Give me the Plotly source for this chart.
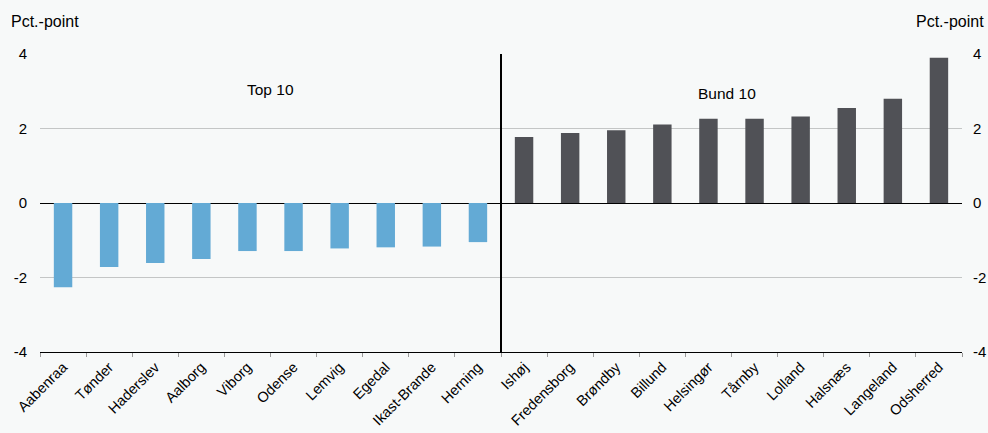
import plotly.graph_objects as go

top_names = ["Aabenraa", "Tønder", "Haderslev", "Aalborg", "Viborg", "Odense",
             "Lemvig", "Egedal", "Ikast-Brande", "Herning"]
top_values = [-2.26, -1.72, -1.61, -1.50, -1.29, -1.29, -1.22, -1.19, -1.17, -1.05]

bund_names = ["Ishøj", "Fredensborg", "Brøndby", "Billund", "Helsingør", "Tårnby",
              "Lolland", "Halsnæs", "Langeland", "Odsherred"]
bund_values = [1.77, 1.88, 1.95, 2.11, 2.26, 2.26, 2.32, 2.55, 2.80, 3.90]

y_ticks = [-4, -2, 0, 2, 4]
y_ticktext = ["-4", "-2", "0", "2", "4"]
all_names = top_names + bund_names

FONT = "Liberation Sans, Arial, sans-serif"
BG = "#f7f9f9"

fig = go.Figure()
fig.add_trace(go.Bar(x=top_names, y=top_values, marker_color="#63aad5",
                     marker_line_width=0, width=0.4, showlegend=False))
fig.add_trace(go.Bar(x=bund_names, y=bund_values, marker_color="#505156",
                     marker_line_width=0, width=0.4, showlegend=False))
# invisible trace to activate right axis
fig.add_trace(go.Scatter(x=[all_names[0]], y=[0], yaxis="y2", mode="markers",
                         marker_opacity=0, showlegend=False, hoverinfo="skip"))

fig.add_shape(type="line", xref="x", yref="y", x0=9.5, x1=9.5, y0=-4.05, y1=4,
              line=dict(color="black", width=2))

fig.add_annotation(text="Top 10", x=4.5, y=3.05, xref="x", yref="y", showarrow=False,
                   font=dict(size=15.5, color="black", family=FONT))
fig.add_annotation(text="Bund 10", x=14.4, y=2.95, xref="x", yref="y", showarrow=False,
                   font=dict(size=15.5, color="black", family=FONT))
fig.add_annotation(text="Pct.-point", x=0, y=1.0, xref="paper", yref="paper",
                   xanchor="left", yanchor="bottom", yshift=22, xshift=-31,
                   showarrow=False, font=dict(size=16, color="black", family=FONT))
fig.add_annotation(text="Pct.-point", x=1.0, y=1.0, xref="paper", yref="paper",
                   xanchor="right", yanchor="bottom", yshift=22, xshift=24,
                   showarrow=False, font=dict(size=16, color="black", family=FONT))

fig.update_layout(
    width=988, height=433,
    margin=dict(l=40, r=26, t=54, b=81, autoexpand=False),
    paper_bgcolor=BG, plot_bgcolor=BG,
    font=dict(family=FONT, size=15, color="black"),
    xaxis=dict(categoryorder="array", categoryarray=all_names, range=[-0.5, 19.5],
               tickangle=-45, tickson="boundaries", ticks="outside", ticklen=4,
               tickcolor="#999999", showline=True, linecolor="black", linewidth=1,
               showgrid=False, tickfont=dict(size=14.5)),
    yaxis=dict(range=[-4, 4], tickvals=y_ticks, ticktext=y_ticktext, showgrid=True,
               gridcolor="#c4c6c6", gridwidth=1, zeroline=True, zerolinecolor="black",
               zerolinewidth=1, ticks="", showline=False, tickfont=dict(size=15),
               ticklabelstandoff=12),
    yaxis2=dict(range=[-4, 4], tickvals=y_ticks, ticktext=y_ticktext, overlaying="y",
                side="right", showgrid=False, zeroline=False, ticks="", showline=False,
                tickfont=dict(size=15), ticklabelstandoff=10),
)

fig.write_html("out.html", config={"displayModeBar": False},
               post_script="document.body.style.margin='0';")
